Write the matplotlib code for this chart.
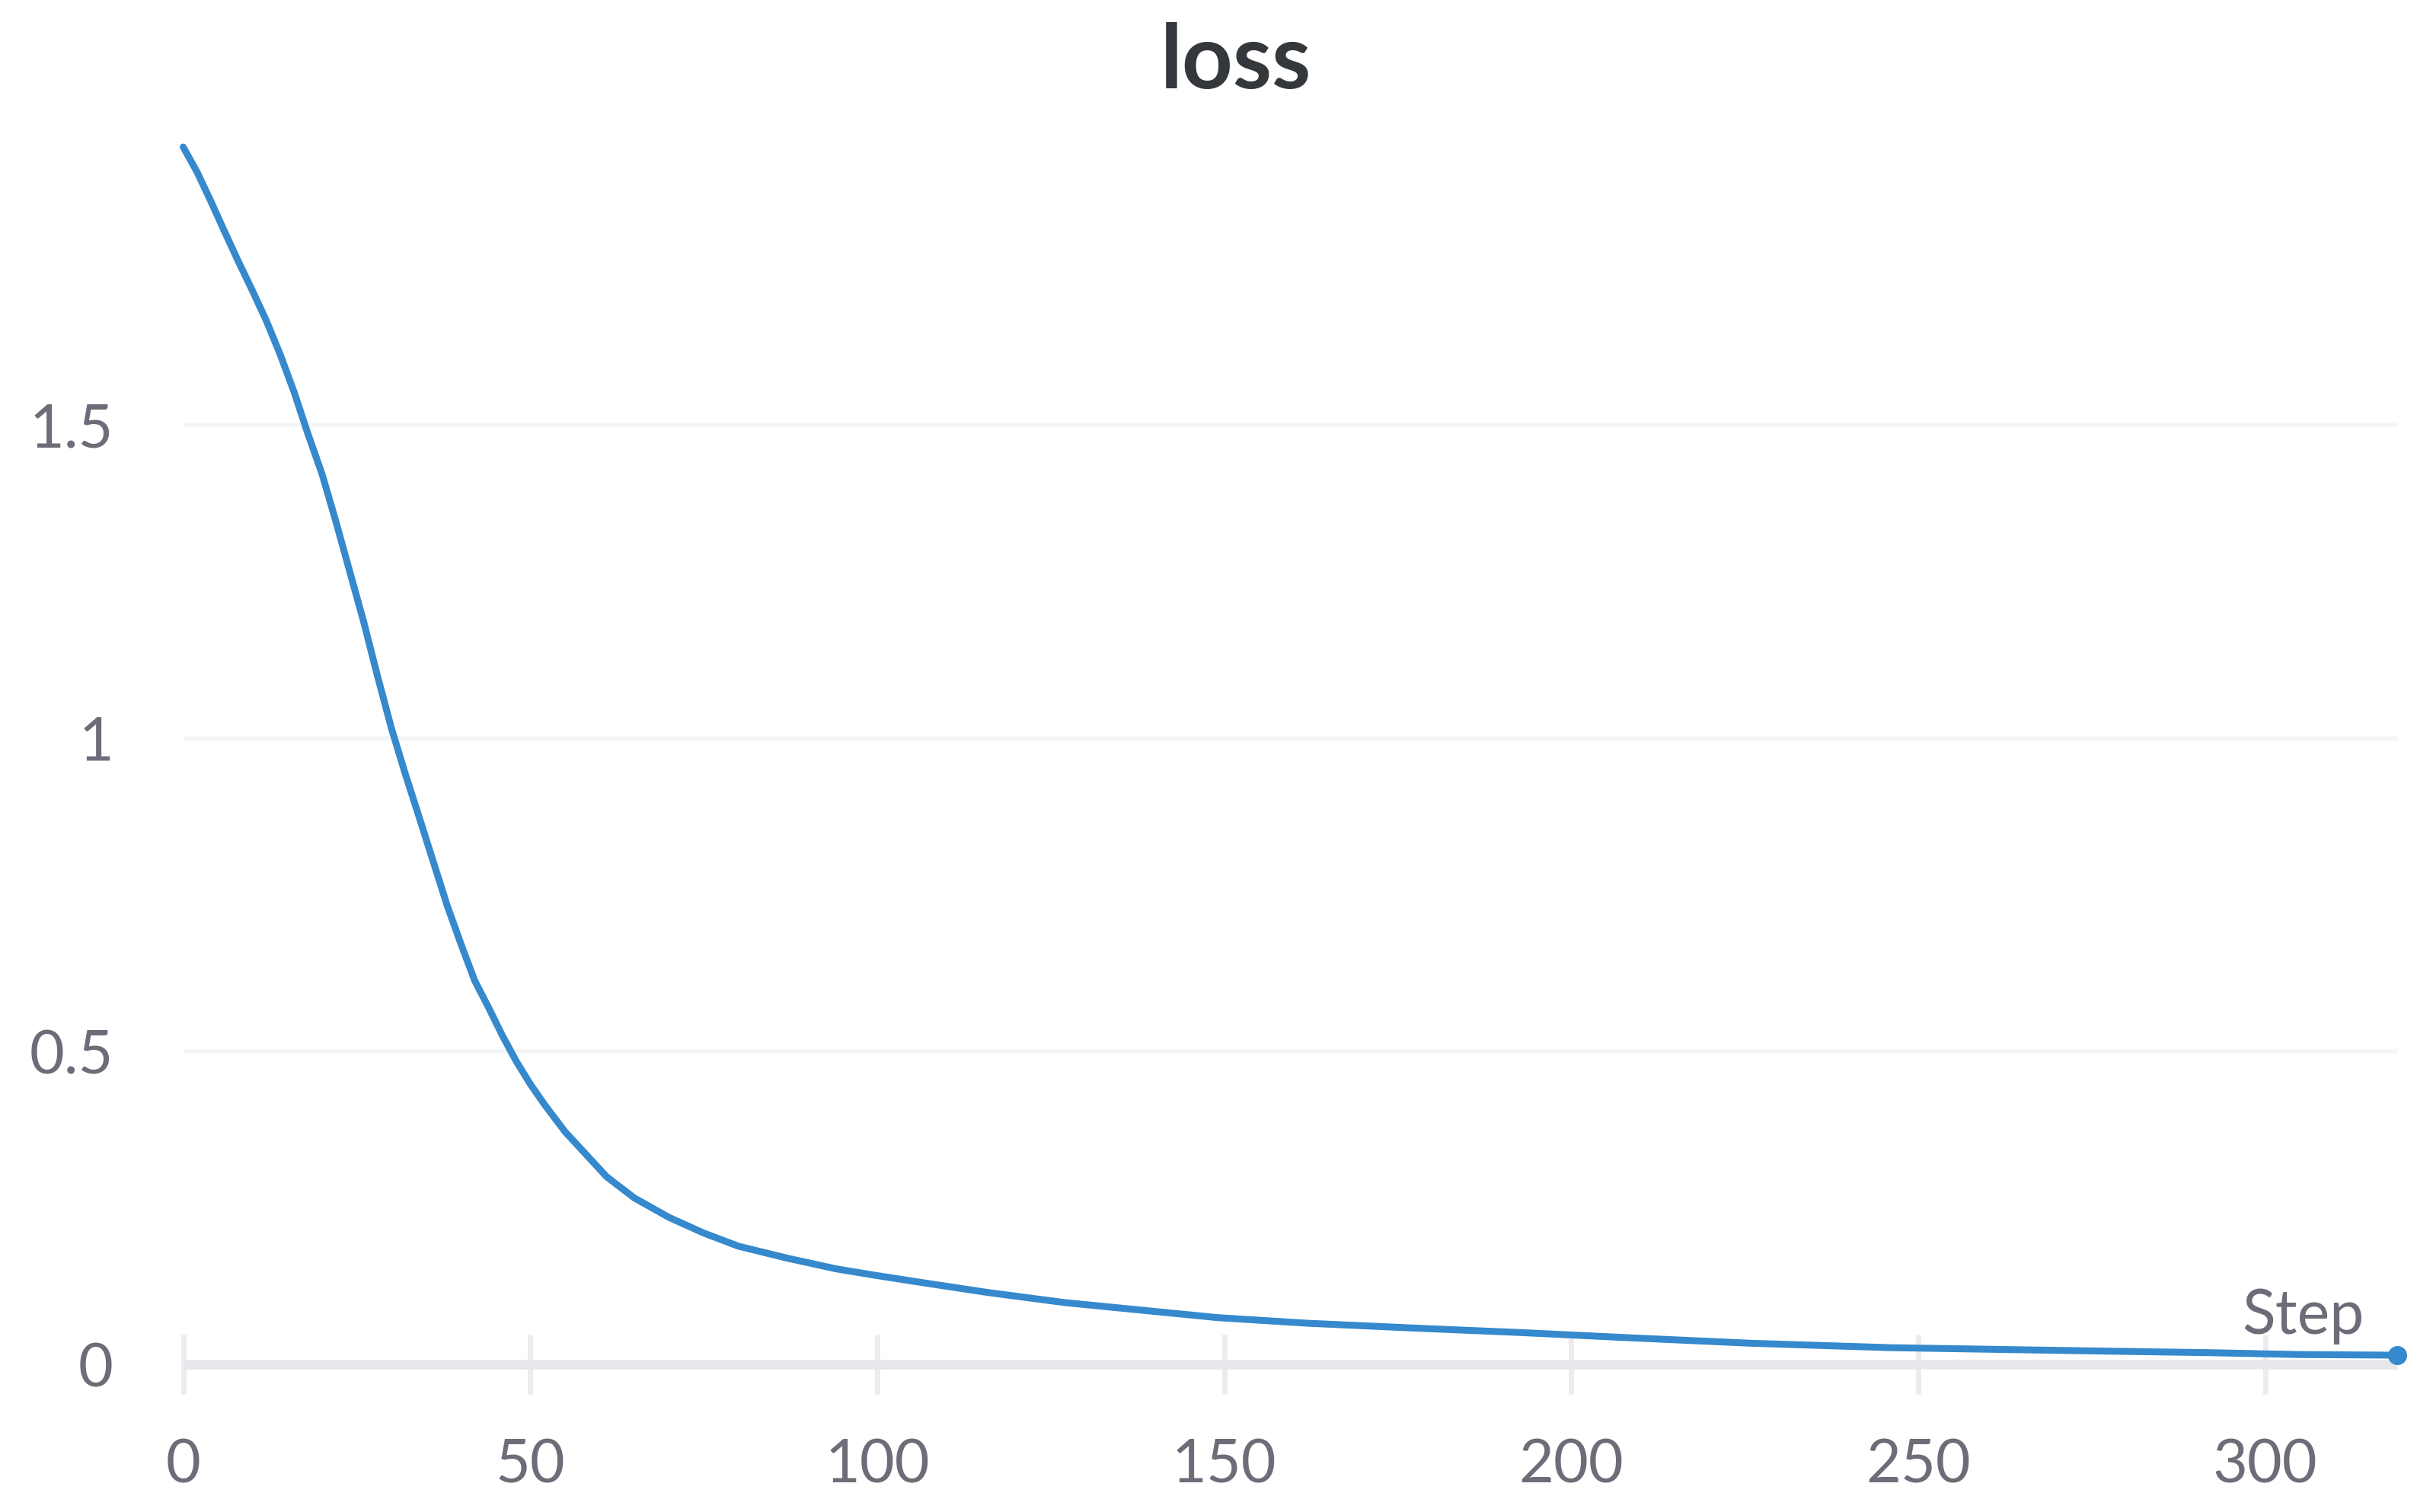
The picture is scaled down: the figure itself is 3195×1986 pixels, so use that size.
import matplotlib.pyplot as plt

# values
steps = [0, 2, 4, 6, 8, 10, 12, 14, 16, 18, 20, 22, 24, 26, 28, 30, 32, 34, 36,
         38, 40, 42, 44, 46, 48, 50, 52, 55, 58, 61, 65, 70, 75, 80, 87, 94, 100,
         107, 116, 127, 138, 149, 162, 178, 193, 208, 226, 246, 274, 292, 305, 319]
loss = [1.944, 1.904, 1.857, 1.808, 1.760, 1.714, 1.666, 1.612, 1.552, 1.485,
        1.422, 1.346, 1.266, 1.186, 1.099, 1.016, 0.943, 0.874, 0.804, 0.734,
        0.672, 0.613, 0.570, 0.525, 0.484, 0.448, 0.416, 0.372, 0.336, 0.300,
        0.266, 0.235, 0.210, 0.189, 0.170, 0.153, 0.142, 0.130, 0.115, 0.099,
        0.087, 0.075, 0.066, 0.058, 0.051, 0.043, 0.034, 0.027, 0.022, 0.019,
        0.016, 0.015]
xticks = [0, 50, 100, 150, 200, 250, 300]
yticks = [0, 0.5, 1, 1.5]
ytick_labels = ["0", "0.5", "1", "1.5"]

plt.rcParams['font.family'] = ['Lato', 'DejaVu Sans']
blue = '#3589cc'
grey = '#6d6c78'

fig = plt.figure(figsize=(31.95, 19.86), dpi=100)
ax = fig.add_axes([0.0753, 0.0975, 0.9100, 0.8119])

ax.plot(steps, loss, color=blue, lw=6.5, solid_capstyle='round',
        solid_joinstyle='round', clip_on=False, zorder=5)
ax.plot(steps[-1], loss[-1], 'o', color=blue, ms=17, clip_on=False, zorder=6)

ax.set_xlim(0, 319)
ax.set_ylim(0, 1.96)

for s in ['top', 'right', 'left']:
    ax.spines[s].set_visible(False)
ax.spines['bottom'].set_color('#e7e7eb')
ax.spines['bottom'].set_linewidth(9)
ax.spines['bottom'].set_capstyle('butt')

ax.set_xticks(xticks)
ax.set_yticks(yticks)
ax.set_yticklabels(ytick_labels)
ax.tick_params(axis='x', direction='inout', length=56, width=5, color='#ececf0',
               labelsize=57, labelcolor=grey, pad=42)
ax.tick_params(axis='y', length=0, labelsize=57, labelcolor=grey, pad=66)

ax.grid(axis='y', color='#f4f5f7', lw=4)
ax.set_axisbelow(True)

ax.annotate("Step", xy=(1, 0), xycoords='axes fraction', xytext=(-31, 29),
            textcoords='offset points', ha='right', va='baseline',
            fontsize=58, color=grey)

fig.text(0.508, 0.9415, "loss", ha='center', va='baseline', fontsize=84,
         fontweight='bold', color='#34373b')

fig.savefig("out.png", dpi=100)
